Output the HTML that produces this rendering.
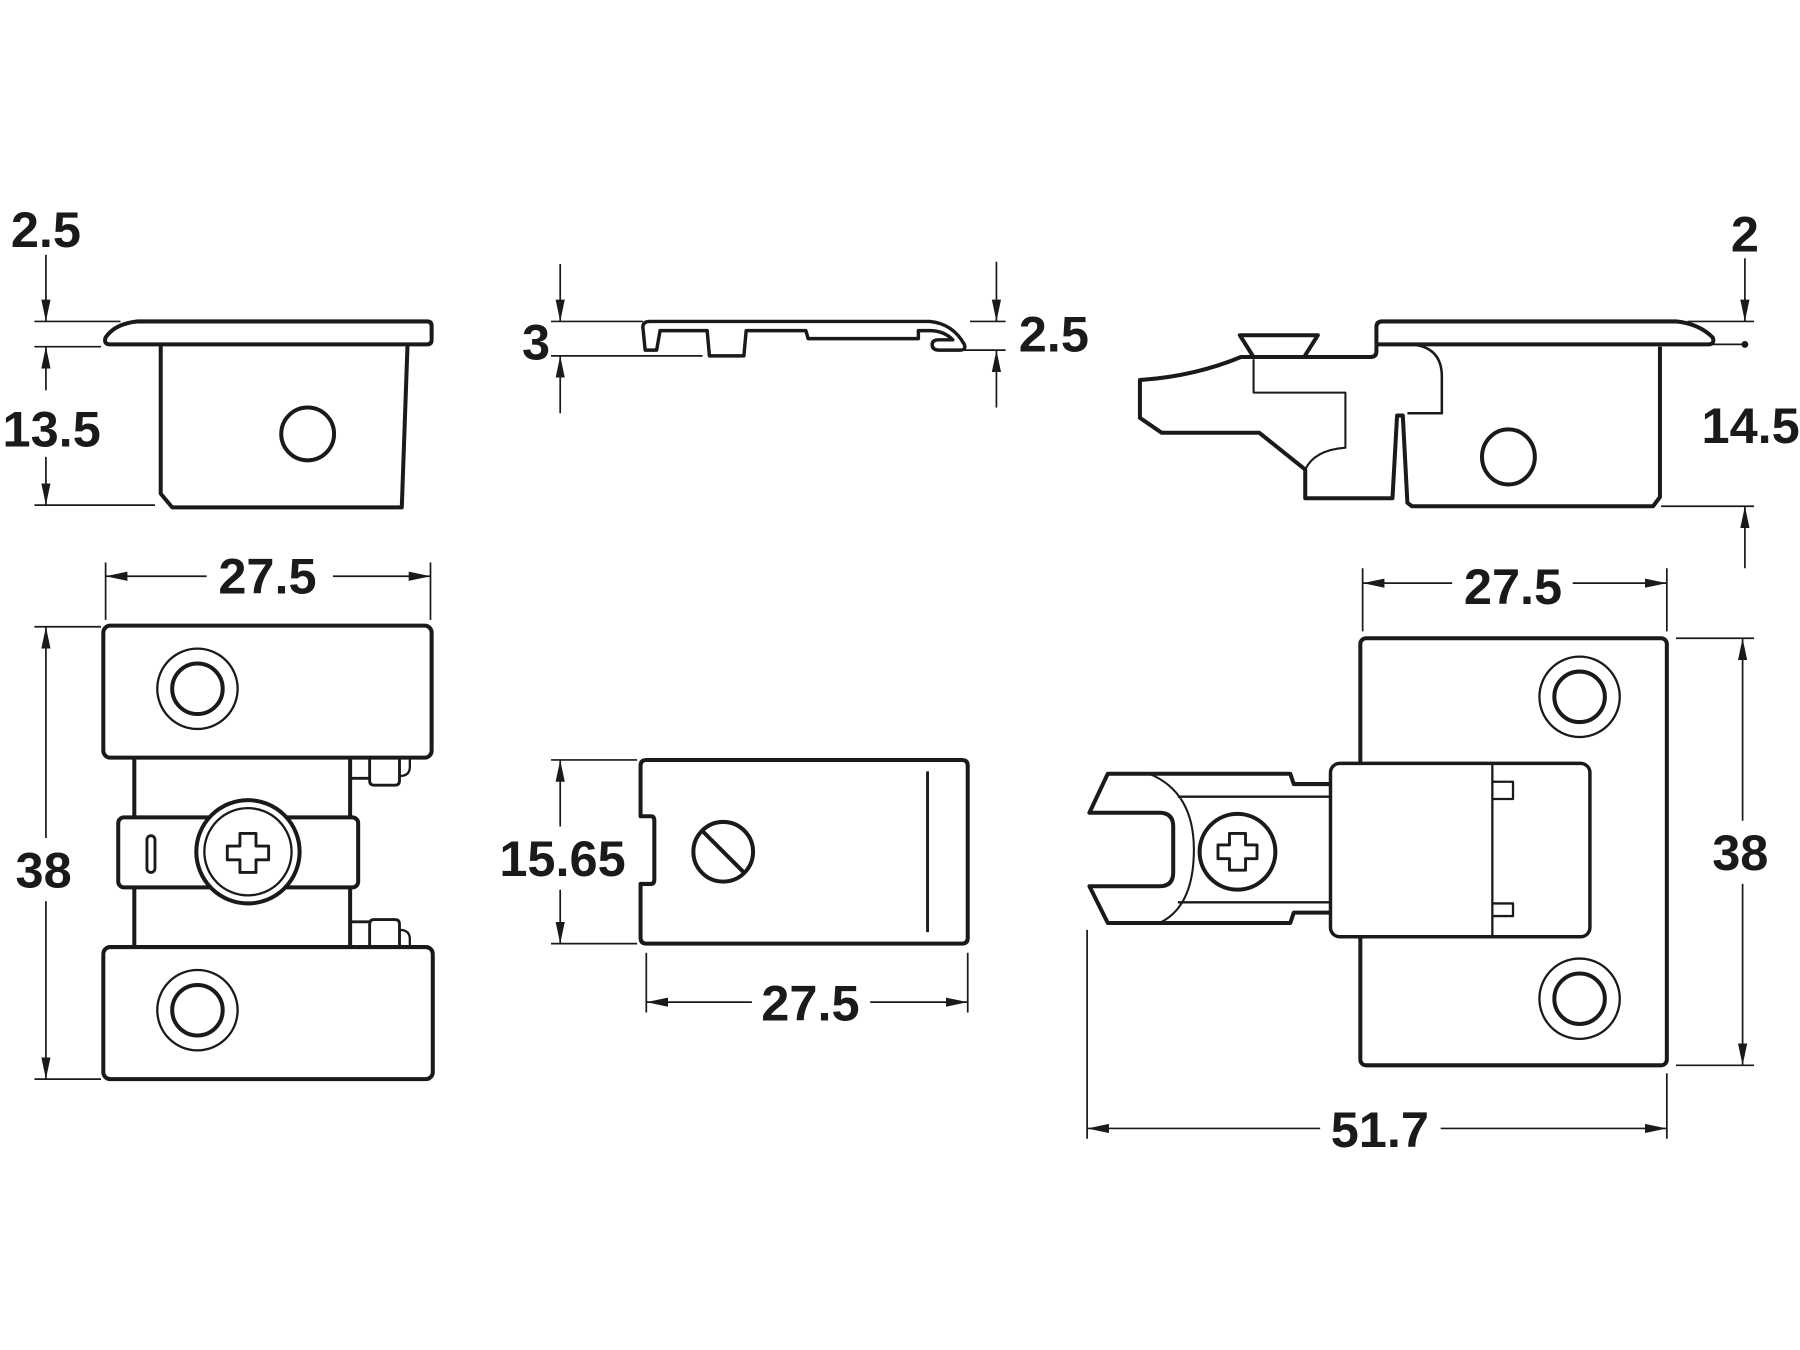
<!DOCTYPE html>
<html><head><meta charset="utf-8"><style>
html,body{margin:0;padding:0;background:#fff;}
svg{display:block;}
text{font-family:"Liberation Sans",sans-serif;font-weight:bold;font-size:44px;fill:#1a1a1a;}
</style></head><body>
<svg width="1800" height="1350" viewBox="0 0 1568 1176" xmlns="http://www.w3.org/2000/svg">
<defs>
<marker id="a" markerWidth="20" markerHeight="10" refX="19" refY="5" orient="auto" markerUnits="userSpaceOnUse">
<path d="M0,1 L19,5 L0,9 Z" fill="#1a1a1a"/></marker>
</defs>
<g fill="none" stroke="#1a1a1a" stroke-width="1.5">
<line x1="40" y1="222" x2="40" y2="280" marker-end="url(#a)"/>
<line x1="30" y1="280" x2="105" y2="280"/><line x1="30" y1="302" x2="88" y2="302"/>
<line x1="40" y1="340" x2="40" y2="302" marker-end="url(#a)"/>
<line x1="40" y1="398" x2="40" y2="440" marker-end="url(#a)"/>
<line x1="30" y1="440" x2="135" y2="440"/>

<line x1="488" y1="230" x2="488" y2="280" marker-end="url(#a)"/>
<line x1="488" y1="360" x2="488" y2="310" marker-end="url(#a)"/>
<line x1="480" y1="280" x2="560" y2="280"/><line x1="480" y1="310" x2="612" y2="310"/>
<line x1="868" y1="228" x2="868" y2="280" marker-end="url(#a)"/>
<line x1="868" y1="355" x2="868" y2="305" marker-end="url(#a)"/>
<line x1="845" y1="280" x2="876" y2="280"/><line x1="840" y1="305" x2="876" y2="305"/>

<line x1="1520" y1="225" x2="1520" y2="280" marker-end="url(#a)"/>
<line x1="1470" y1="280" x2="1528" y2="280"/><line x1="1490" y1="300" x2="1520" y2="300"/>
<line x1="1447" y1="441" x2="1528" y2="441"/>
<line x1="1520" y1="495" x2="1520" y2="441" marker-end="url(#a)"/>

<line x1="180" y1="502" x2="92" y2="502" marker-end="url(#a)"/>
<line x1="290" y1="502" x2="375" y2="502" marker-end="url(#a)"/>
<line x1="92" y1="490" x2="92" y2="540"/><line x1="375" y1="490" x2="375" y2="540"/>
<line x1="40" y1="730" x2="40" y2="546" marker-end="url(#a)"/>
<line x1="40" y1="785" x2="40" y2="940" marker-end="url(#a)"/>
<line x1="30" y1="546" x2="88" y2="546"/><line x1="30" y1="940" x2="88" y2="940"/>

<line x1="488" y1="720" x2="488" y2="662" marker-end="url(#a)"/>
<line x1="488" y1="775" x2="488" y2="822" marker-end="url(#a)"/>
<line x1="480" y1="662" x2="555" y2="662"/><line x1="480" y1="822" x2="555" y2="822"/>
<line x1="655" y1="873" x2="563" y2="873" marker-end="url(#a)"/>
<line x1="758" y1="873" x2="843" y2="873" marker-end="url(#a)"/>
<line x1="563" y1="830" x2="563" y2="882"/><line x1="843" y1="830" x2="843" y2="882"/>

<line x1="1265" y1="508" x2="1187" y2="508" marker-end="url(#a)"/>
<line x1="1370" y1="508" x2="1452" y2="508" marker-end="url(#a)"/>
<line x1="1187" y1="495" x2="1187" y2="550"/><line x1="1452" y1="495" x2="1452" y2="550"/>
<line x1="1518" y1="715" x2="1518" y2="556" marker-end="url(#a)"/>
<line x1="1518" y1="770" x2="1518" y2="928" marker-end="url(#a)"/>
<line x1="1460" y1="556" x2="1528" y2="556"/><line x1="1460" y1="928" x2="1528" y2="928"/>
<line x1="1150" y1="983" x2="947" y2="983" marker-end="url(#a)"/>
<line x1="1255" y1="983" x2="1452" y2="983" marker-end="url(#a)"/>
<line x1="947" y1="810" x2="947" y2="992"/><line x1="1452" y1="935" x2="1452" y2="992"/>
</g>
<circle cx="1520" cy="300" r="3" fill="#1a1a1a"/>

<g fill="none" stroke="#1a1a1a" stroke-width="3.5" stroke-linejoin="round">
<path d="M120,280 L372,280 Q376,280 376,284 L376,296 Q376,300 372,300 L96,300 Q90,300 92,294 Q100,282 120,280 Z"/>
<path d="M140,300 L140,430 L150,442 L350,442 L355,300"/>
<circle cx="268" cy="378" r="23"/>

<path d="M566,280 L810,280 Q830,282 840,300 Q842,305 836,305 L818,305 Q812,305 812,300 Q812,296 818,296 L830,296 Q822,288 810,288 L800,288 L800,295 L704,295 L702,288 L650,288 L648,310 L618,310 L616,288 L580,288 L578,288 L575,288 L572,305 L562,305 L560,285 Q560,280 566,280 Z" stroke-width="3"/>

<path d="M1199,300 L1199,285 Q1199,280 1204,280 L1460,280 Q1480,282 1492,294 Q1494,300 1488,300 L1199,300"/>
<path d="M1199,300 L1199,306 Q1199,311 1194,311 L1081,311 Q1040,328 993,331 L993,364 L1012,377 L1097,377 L1137,409 L1137,434 L1213,434 L1217,362 L1222,362 L1226,438 L1230,441 L1440,441 L1446,433 L1446,302"/>
<path d="M1080,292 L1148,292 L1136,311 L1092,311 Z"/>
<path d="M1092,313 L1092,342 L1172,342 L1172,390 Q1145,392 1137,409" stroke-width="1.8"/>
<path d="M1229,300 Q1256,302 1256,328 L1256,360 L1226,360" stroke-width="2.2"/>
<ellipse cx="1314" cy="398" rx="23" ry="24"/>

<rect x="90" y="545" width="286" height="115" rx="6"/>
<rect x="90" y="825" width="287" height="115" rx="6"/>
<path d="M117,660 L117,712 M305,660 L305,712 M117,773 L117,825 M305,773 L305,825"/>
<rect x="103" y="712" width="209" height="61" rx="5"/>
<rect x="128" y="728" width="7" height="32" rx="3.5" stroke-width="2.5"/>
<circle cx="216" cy="742" r="45" fill="#fff"/>
<circle cx="216" cy="742" r="38" stroke-width="2"/>
<path d="M209,726 L223,726 L223,737 L234,737 L234,749 L223,749 L223,760 L209,760 L209,749 L198,749 L198,737 L209,737 Z" stroke-width="2.5"/>
<path d="M305,678 L322,678 M305,803 L322,803" stroke-width="2.5"/>
<path d="M322,660 L322,680 Q322,684 326,684 L344,684 Q348,684 348,680 L348,660" stroke-width="2.5"/>
<path d="M348,660 L348,676 Q357,676 357,668 L357,660" stroke-width="2"/>
<path d="M322,825 L322,805 Q322,801 326,801 L344,801 Q348,801 348,805 L348,825" stroke-width="2.5"/>
<path d="M348,825 L348,810 Q357,810 357,818 L357,825" stroke-width="2"/>
<circle cx="172" cy="600" r="35" stroke-width="2"/><circle cx="172" cy="600" r="22"/>
<circle cx="172" cy="880" r="35" stroke-width="2"/><circle cx="172" cy="880" r="22"/>

<path d="M563,662 L838,662 Q843,662 843,667 L843,817 Q843,822 838,822 L563,822 Q558,822 558,817 L558,770 L567,770 Q570,770 570,766 L570,715 Q570,711 567,711 L558,711 L558,667 Q558,662 563,662 Z"/>
<line x1="808" y1="672" x2="808" y2="812" stroke-width="2.5"/>
<circle cx="630" cy="742" r="26"/>
<line x1="612" y1="724" x2="648" y2="760" stroke-width="3.5"/>

<rect x="1185" y="556" width="267" height="372" rx="5"/>
<circle cx="1376" cy="607" r="35" stroke-width="2"/><circle cx="1376" cy="607" r="22"/>
<circle cx="1376" cy="870" r="35" stroke-width="2"/><circle cx="1376" cy="870" r="22"/>
<path d="M1159,683 L1127,683 L1124,674 L965,674 L949,708 L1010,708 Q1022,708 1022,720 L1022,760 Q1022,772 1010,772 L949,772 L965,804 L1124,804 L1127,795 L1159,795" fill="#fff"/>
<path d="M1026,694 L1159,694 M1026,786 L1159,786" stroke-width="2"/>
<path d="M1001,674 Q1040,690 1040,740 Q1040,790 1010,804" stroke-width="1.8"/>
<rect x="1159" y="665" width="226" height="151" rx="8" fill="#fff" stroke-width="3"/>
<line x1="1300" y1="665" x2="1300" y2="816" stroke-width="2"/>
<path d="M1300,681 L1318,681 L1318,696 L1300,696 M1300,787 L1318,787 L1318,798 L1300,798" stroke-width="2"/>
<circle cx="1078" cy="742" r="33" fill="#fff"/>
<path d="M1071,726 L1085,726 L1085,736 L1095,736 L1095,748 L1085,748 L1085,758 L1071,758 L1071,748 L1061,748 L1061,736 L1071,736 Z" stroke-width="2.5"/>
</g>

<g>
<text x="40" y="215" text-anchor="middle">2.5</text>
<text x="45" y="389" text-anchor="middle">13.5</text>
<text x="467" y="313" text-anchor="middle">3</text>
<text x="918" y="306" text-anchor="middle">2.5</text>
<text x="1520" y="219" text-anchor="middle">2</text>
<text x="1525" y="386" text-anchor="middle">14.5</text>
<text x="233" y="517" text-anchor="middle">27.5</text>
<text x="38" y="773" text-anchor="middle">38</text>
<text x="490" y="763" text-anchor="middle">15.65</text>
<text x="706" y="889" text-anchor="middle">27.5</text>
<text x="1318" y="526" text-anchor="middle">27.5</text>
<text x="1516" y="758" text-anchor="middle">38</text>
<text x="1202" y="999" text-anchor="middle">51.7</text>
</g>
</svg>
</body></html>
